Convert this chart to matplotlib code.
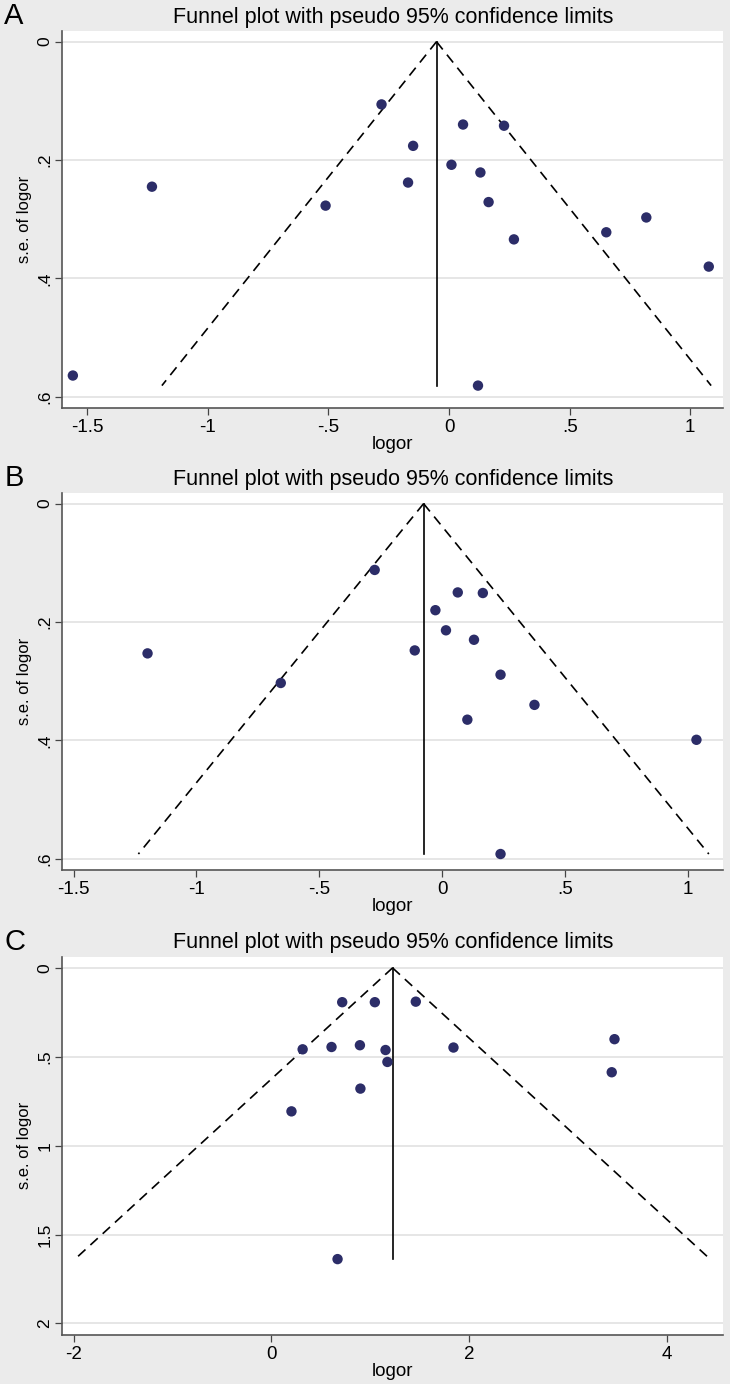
import numpy as np
import matplotlib
matplotlib.use("Agg")
import matplotlib.pyplot as plt

plt.rcParams['font.family'] = ['Liberation Sans', 'DejaVu Sans']

# ---- data ----
a_logor = [-0.280, 0.058, 0.228, -0.149, 0.010, 0.130, -0.170, -1.232,
           -0.512, 0.164, 0.818, 0.652, 0.269, 1.077, -1.560, 0.120]
a_se = [0.106, 0.140, 0.142, 0.176, 0.208, 0.221, 0.238, 0.245,
        0.277, 0.271, 0.297, 0.322, 0.334, 0.380, 0.564, 0.581]
a_pooled = -0.052

b_logor = [-0.275, 0.063, 0.165, -0.028, 0.015, 0.129, -0.112, -1.199,
           0.237, -0.657, 0.375, 0.102, 1.034, 0.237]
b_se = [0.112, 0.150, 0.151, 0.180, 0.214, 0.230, 0.248, 0.253,
        0.289, 0.303, 0.340, 0.365, 0.399, 0.592]
b_pooled = -0.076

c_logor = [0.715, 1.045, 1.459, 3.468, 0.315, 0.607, 0.894, 1.153,
           1.840, 1.172, 3.440, 0.899, 0.202, 0.668]
c_se = [0.193, 0.193, 0.190, 0.401, 0.458, 0.445, 0.435, 0.462,
        0.448, 0.529, 0.587, 0.679, 0.807, 1.638]
c_pooled = 1.224

ab_xticks = [-1.5, -1, -0.5, 0, 0.5, 1]
ab_xlabels = ['-1.5', '-1', '-.5', '0', '.5', '1']
ab_yticks = [0, 0.2, 0.4, 0.6]
ab_ylabels = ['0', '.2', '.4', '.6']
c_xticks = [-2, 0, 2, 4]
c_xlabels = ['-2', '0', '2', '4']
c_yticks = [0, 0.5, 1, 1.5, 2]
c_ylabels = ['0', '.5', '1', '1.5', '2']

panels = [
    dict(letter='A', x=a_logor, se=a_se, pooled=a_pooled, xlim=(-1.605, 1.136),
         ylim=(0.618, -0.018), xt=ab_xticks, xl=ab_xlabels, yt=ab_yticks, yl=ab_ylabels,
         rect=[62/730, 1-407.5/1384, 661/730, 376.5/1384]),
    dict(letter='B', x=b_logor, se=b_se, pooled=b_pooled, xlim=(-1.547, 1.142),
         ylim=(0.619, -0.018), xt=ab_xticks, xl=ab_xlabels, yt=ab_yticks, yl=ab_ylabels,
         rect=[62/730, 1-870/1384, 661/730, 377/1384]),
    dict(letter='C', x=c_logor, se=c_se, pooled=c_pooled, xlim=(-2.118, 4.565),
         ylim=(2.062, -0.064), xt=c_xticks, xl=c_xlabels, yt=c_yticks, yl=c_ylabels,
         rect=[62/730, 1-1334.5/1384, 661/730, 378/1384]),
]

bg = '#ebebeb'
dot = '#2c2d68'

fig = plt.figure(figsize=(7.3, 13.84), dpi=100)
fig.patch.set_facecolor(bg)

for i, p in enumerate(panels):
    ax = fig.add_axes(p['rect'])
    ax.set_facecolor('white')
    se_max = max(p['se'])
    se_line = np.array([0, se_max])

    # horizontal grid lines
    for yv in p['yt']:
        ax.axhline(yv, color='#e4e4e4', lw=1.3, zorder=0)

    # pseudo 95% limits
    ax.plot(p['pooled'] - 1.96 * se_line, se_line, color='black', lw=1.2,
            dashes=(6, 4), zorder=2)
    ax.plot(p['pooled'] + 1.96 * se_line, se_line, color='black', lw=1.2,
            dashes=(6, 4), zorder=2)
    ax.plot([p['pooled'], p['pooled']], se_line, color='black', lw=1.2, zorder=2)

    ax.scatter(p['x'], p['se'], s=56, color=dot, edgecolors='none', zorder=3)

    ax.set_xlim(*p['xlim'])
    ax.set_ylim(*p['ylim'])
    ax.set_xticks(p['xt'])
    ax.set_xticklabels(p['xl'], fontsize=13.5)
    ax.set_yticks(p['yt'])
    ax.set_yticklabels(p['yl'], fontsize=12.5, rotation=90, va='center')
    ax.tick_params(length=5, width=0.9, color='#444444', pad=3)
    ax.tick_params(axis='y', pad=2)
    for side in ['top', 'right']:
        ax.spines[side].set_visible(False)
    for side in ['left', 'bottom']:
        ax.spines[side].set_color('#555555')
        ax.spines[side].set_linewidth(1.2)
    ax.set_xlabel('logor', fontsize=13.5, labelpad=0)
    ax.set_ylabel('s.e. of logor', fontsize=12, labelpad=4)

    top = p['rect'][1] + p['rect'][3]
    fig.text(0.538, top + 0.0098, 'Funnel plot with pseudo 95% confidence limits',
             ha='center', va='center', fontsize=15.5)
    fig.text(0.006, top + 0.0105, p['letter'], ha='left', va='center', fontsize=21)

fig.savefig('out.png', dpi=100, facecolor=bg)
